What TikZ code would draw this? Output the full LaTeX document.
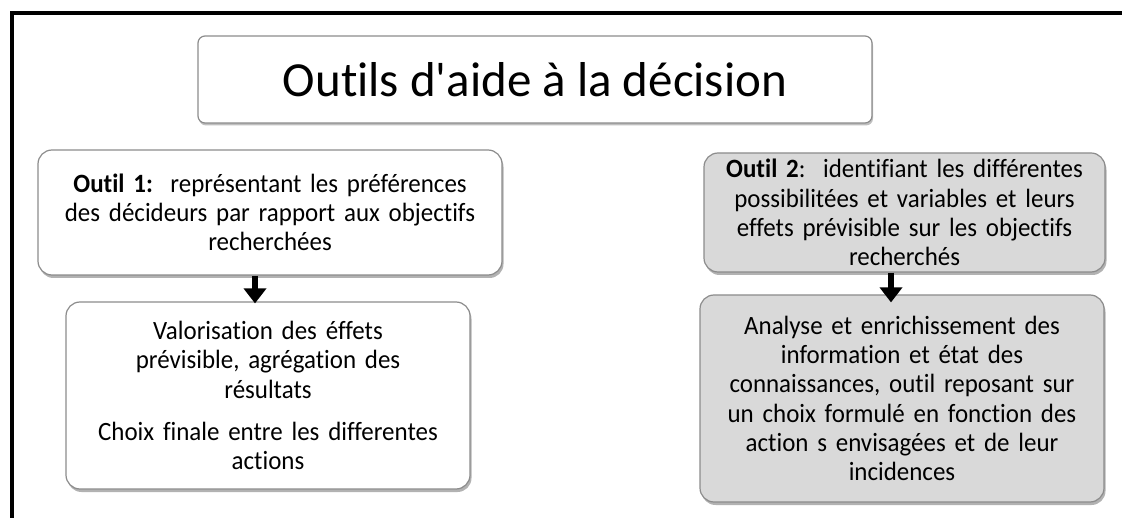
\documentclass[tikz,border=0pt]{standalone}
\usepackage{fontspec}
\setmainfont{Carlito}[Ligatures={NoCommon}]
\newfontfamily\bodyfont{Carlito}[Ligatures={NoCommon}, FakeStretch=0.945]
\usetikzlibrary{arrows.meta,shadows}
\definecolor{boxgray}{HTML}{D9D9D9}
\definecolor{edgegray}{HTML}{8C8C8C}
\tikzset{
  boxbase/.style={draw=edgegray, line width=1.2pt, rounded corners=14pt, inner sep=0pt,
    align=center, font=\bodyfont\fontsize{26.4}{29.3}\selectfont,
    drop shadow={shadow xshift=1.5pt, shadow yshift=-3pt, fill=black, opacity=0.3}},
  whitebox/.style={boxbase, fill=white},
  graybox/.style={boxbase, fill=boxgray},
  titlebox/.style={draw=edgegray, line width=1.2pt, rounded corners=7pt, fill=white, inner sep=0pt,
    font=\fontsize{49}{58}\selectfont,
    drop shadow={shadow xshift=1pt, shadow yshift=-2.5pt, fill=black, opacity=0.25}},
  arr/.style={line width=5.5pt, -{Triangle[width=22pt,length=15pt]}},
}
\begin{document}
\begin{tikzpicture}[x=1pt,y=-1pt]
\useasboundingbox (0,0) rectangle (1122,518);
% frame
\coordinate (fbl) at (12,518);
\coordinate (ftl) at (12,13);
\coordinate (ftr) at (1122,13);
\draw[line width=3.5pt] (fbl) -- (ftl) -- (ftr);

\node[titlebox, minimum width=674pt, minimum height=87pt] (title) at (535,79.5) {Outils d\textquotesingle aide à la décision};

\node[whitebox, minimum width=464pt, minimum height=125pt, text width=455pt] (b1) at (270,212.5)
  {\textbf{Outil 1:}\ \ représentant les préférences\\des décideurs par rapport aux objectifs\\recherchées};

\node[whitebox, minimum width=404pt, minimum height=187pt, text width=395pt] (b2) at (268,395.5)
  {Valorisation des éffets\\prévisible, agrégation des\\résultats\\[13pt]Choix finale entre les differentes\\actions};

\node[graybox, minimum width=401pt, minimum height=119pt, text width=395pt] (b3) at (904.5,212.5)
  {\textbf{Outil 2}:\ \ identifiant les différentes\\possibilitées et variables et leurs\\effets prévisible sur les objectifs\\recherchés};

\node[graybox, minimum width=404pt, minimum height=207pt, text width=395pt] (b4) at (902,398.5)
  {Analyse et enrichissement des\\information et état des\\connaissances, outil reposant sur\\un choix formulé en fonction des\\action s envisagées et de leur\\incidences};

\draw[arr] ([xshift=-15pt]b1.south) -- ([xshift=-15pt,yshift=-2pt]b1.south |- b2.north);
\draw[arr] ([xshift=-13.5pt]b3.south) -- ([xshift=-13.5pt,yshift=-8pt]b3.south |- b4.north);
\end{tikzpicture}
\end{document}
